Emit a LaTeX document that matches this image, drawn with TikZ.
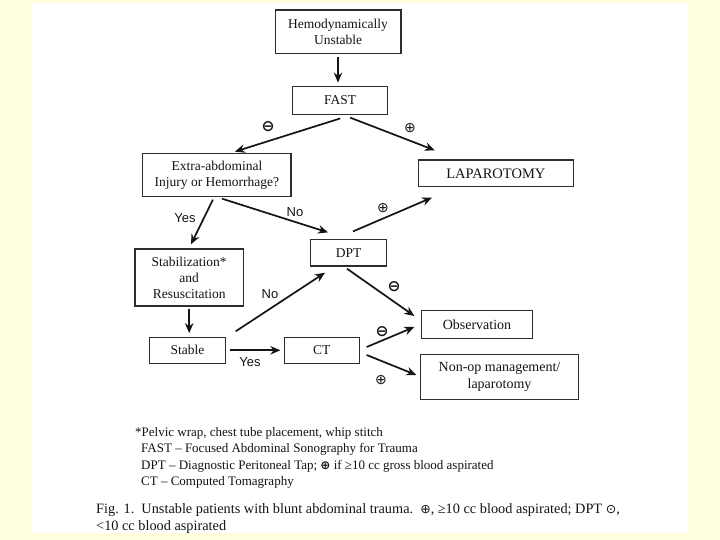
\documentclass[tikz,border=0pt]{standalone}
\usepackage{fontspec}
\setmainfont{Liberation Serif}
\newfontfamily\arialf{Liberation Sans}
\newfontfamily\djvf{DejaVu Sans}
\usetikzlibrary{arrows.meta}
\definecolor{bgyellow}{RGB}{255,255,224}
\definecolor{boxline}{RGB}{45,45,45}
\definecolor{inkc}{RGB}{20,20,20}
\begin{document}
\begin{tikzpicture}[x=1pt,y=-1pt,
 box/.style={draw=boxline, line width=1.3pt, inner sep=0pt, align=center, text=inkc, font=\fontsize{13.5}{16}\selectfont},
 arr/.style={draw=inkc, line width=1.7pt, -{Stealth[length=10pt,width=8.5pt]}},
 yn/.style={font=\arialf\fontsize{13}{15}\selectfont, text=inkc, inner sep=0pt},
 sgn/.style={font=\djvf\fontsize{14}{15}\selectfont, inner sep=0pt, text=inkc},
 sgnb/.style={font=\djvf\bfseries\fontsize{15.5}{16}\selectfont, inner sep=0pt, text=inkc},
 note/.style={font=\fontsize{13}{15}\selectfont, anchor=west, inner sep=0pt, text=inkc},
 capt/.style={font=\fontsize{14.3}{16}\selectfont, anchor=west, inner sep=0pt, text=inkc},
]
\fill[bgyellow] (0,0) rectangle (720,540);
\fill[white] (32,3) rectangle (688,533);
\useasboundingbox (0,0) rectangle (720,540);

% boxes
\node[box, minimum width=125.7pt, minimum height=43.3pt] (hemo) at (338,31.7) {Hemodynamically\\Unstable};
\node[box, minimum width=95pt, minimum height=27.6pt] (fast) at (340.2,100.5) {FAST};
\node[box, minimum width=148.3pt, minimum height=43.4pt] (extra) at (216.9,175) {Extra-abdominal\\Injury or Hemorrhage?};
\node[box, minimum width=155pt, minimum height=26.7pt, font=\fontsize{14.5}{16}\selectfont] (lap) at (495.8,173.3) {LAPAROTOMY};
\node[box, minimum width=76pt, minimum height=26.7pt] (dpt) at (348.7,252.7) {DPT};
\node[box, minimum width=108.3pt, minimum height=57pt] (stab) at (189.2,277.5) {Stabilization*\\and\\Resuscitation};
\node[box, minimum width=76.4pt, minimum height=26pt] (stable) at (187.5,350.3) {Stable};
\node[box, minimum width=75pt, minimum height=26pt] (ct) at (321.8,350.3) {CT};
\node[box, minimum width=110.6pt, minimum height=27.6pt, font=\fontsize{14}{16}\selectfont] (obs) at (477,324.5) {Observation};
\node[box, minimum width=157.6pt, minimum height=45pt, font=\fontsize{14}{17.5}\selectfont] (nonop) at (499.5,376.8) {Non-op management/\\laparotomy};

% connectors
\draw[arr, shorten <=3.5pt, shorten >=3.5pt] (hemo.south) -- (hemo.south |- fast.north);
\draw[arr] ([yshift=-3.5pt]fast.south) -- ([xshift=18pt,yshift=1pt]extra.north);
\draw[arr] ([xshift=10pt,yshift=-2.7pt]fast.south) -- ([xshift=-61pt,yshift=9pt]lap.north);
\draw[arr] ([xshift=-4pt,yshift=-2.3pt]extra.south) -- ([xshift=1.8pt,yshift=4pt]stab.north);
\draw[arr] ([xshift=5pt,yshift=-1.3pt]extra.south) -- ([xshift=-20.7pt,yshift=6.3pt]dpt.north);
\draw[arr] ([xshift=4.3pt,yshift=7.3pt]dpt.north) -- ([xshift=-63.8pt,yshift=-10.3pt]lap.south);
\draw[arr, shorten <=2pt, shorten >=3.5pt] (stab.south) -- (stab.south |- stable.north);
\draw[arr] ([xshift=9.3pt,yshift=5.3pt]stable.north east) -- ([xshift=-23.7pt,yshift=-6pt]dpt.south);
\draw[arr, shorten <=3.3pt, shorten >=3.3pt] (stable.east) -- (ct.west);
\draw[arr] ([xshift=-1.7pt,yshift=-2pt]dpt.south) -- ([xshift=-6.7pt,yshift=8.5pt]obs.west);
\draw[arr] ([xshift=6.7pt,yshift=3.3pt]ct.east) -- ([xshift=-6.7pt,yshift=-2.5pt]obs.west);
\draw[arr] ([xshift=6.7pt,yshift=-4.7pt]ct.east) -- ([xshift=-3.7pt,yshift=1.8pt]nonop.west);

% labels
\node[sgnb] (l1) at (268,127) {⊖};
\node[sgn] (l2) at (410,128) {⊕};
\node[yn] (l3) at (185,218) {Yes};
\node[yn] (l4) at (295,212) {No};
\node[sgn] (l5) at (383,208) {⊕};
\node[yn] (l6) at (270,294) {No};
\node[yn] (l7) at (250,362) {Yes};
\node[sgnb] (l8) at (394,287) {⊖};
\node[sgnb] (l9) at (382,332) {⊖};
\node[sgn] (l10) at (381,380) {⊕};

% footnotes
\node[note] (n1) at (135,433) {*Pelvic wrap, chest tube placement, whip stitch};
\node[note] (n2) at (141,449) {FAST – Focused Abdominal Sonography for Trauma};
\node[note] (n3) at (141,466) {DPT – Diagnostic Peritoneal Tap; {\djvf\bfseries\fontsize{12}{13}\selectfont ⊕} if ≥10 cc gross blood aspirated};
\node[note] (n4) at (141,482) {CT – Computed Tomagraphy};
\node[capt] (c1) at (96,510) {Fig. 1.\ \ Unstable patients with blunt abdominal trauma.\ \ {\djvf\fontsize{12.5}{13}\selectfont ⊕}, ≥10 cc blood aspirated; DPT {\djvf\fontsize{12.5}{13}\selectfont ⊙},};
\node[capt] (c2) at (96,527) {<10 cc blood aspirated};
\end{tikzpicture}
\end{document}
